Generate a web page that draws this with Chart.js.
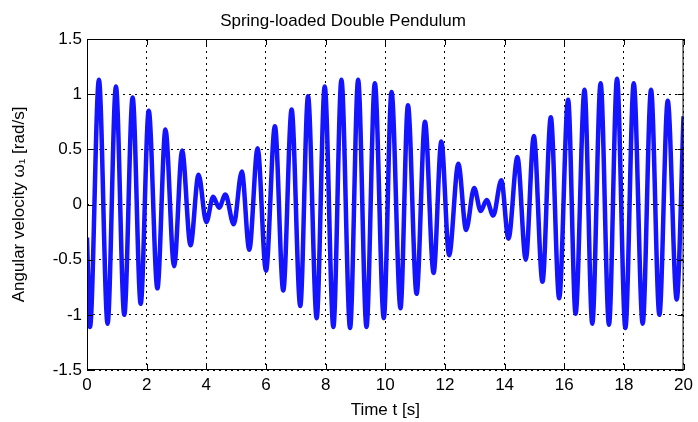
<!DOCTYPE html>
<html>
<head>
<meta charset="utf-8">
<title>Spring-loaded Double Pendulum</title>
<script src="https://cdn.jsdelivr.net/npm/chart.js@4/dist/chart.umd.min.js"></script>
<style>
  html,body{margin:0;padding:0;background:#fff;}
</style>
</head>
<body>
<canvas id="myChart" width="698" height="422"></canvas>
<script>
// turning points of the curve
// time [s]
const timeS=[0,0.10,0.40,0.69,0.97,1.25,1.53,1.80,2.07,2.36,2.63,2.92,3.19,3.47,3.74,4.00,
  4.23,4.43,4.64,4.92,5.19,5.44,5.72,6.00,6.30,6.58,6.86,7.15,7.41,7.70,7.97,8.26,8.53,8.82,
  9.09,9.37,9.65,9.95,10.21,10.51,10.76,11.05,11.33,11.62,11.88,12.14,12.45,12.71,12.98,13.20,
  13.40,13.62,13.89,14.13,14.43,14.71,14.98,15.27,15.55,15.83,16.13,16.38,16.68,16.94,17.22,
  17.50,17.77,18.05,18.33,18.63,18.91,19.19,19.47,19.77,20.00];
// angular velocity omega1 [rad/s]
const omega1=[-0.30,-1.11,1.13,-1.08,1.07,-1.00,0.97,-0.90,0.85,-0.76,0.68,-0.56,0.49,-0.37,0.27,-0.16,
  0.07,-0.03,0.09,-0.18,0.30,-0.41,0.51,-0.60,0.71,-0.78,0.86,-0.92,0.98,-1.03,1.07,-1.11,1.13,-1.12,
  1.13,-1.11,1.10,-1.03,1.02,-0.94,0.90,-0.81,0.75,-0.62,0.57,-0.46,0.37,-0.23,0.15,-0.06,
  0.04,-0.10,0.22,-0.31,0.43,-0.50,0.62,-0.70,0.79,-0.85,0.95,-0.99,1.04,-1.08,1.10,
  -1.09,1.14,-1.12,1.10,-1.08,1.04,-1.00,0.94,-0.86,0.80];

// axis ticks
const xTicks=[0,2,4,6,8,10,12,14,16,18,20];
const yTicks=[-1.5,-1,-0.5,0,0.5,1,1.5];

const points=timeS.map((t,i)=>({x:t,y:omega1[i]}));
const FONT='Arial, "Liberation Sans", sans-serif';

// white background + matlab style box with inward ticks
const boxPlugin={
  id:'box',
  beforeDraw(chart){
    const c=chart.ctx;
    c.save();
    c.fillStyle='#fff';
    c.fillRect(0,0,chart.width,chart.height);
    c.restore();
  },
  afterDraw(chart){
    const c=chart.ctx, a=chart.chartArea;
    const xs=chart.scales.x, ys=chart.scales.y;
    c.save();
    c.strokeStyle='#000';
    c.lineWidth=1;
    c.strokeRect(a.left+0.5,a.top+0.5,a.right-a.left-1,a.bottom-a.top-1);
    c.beginPath();
    xTicks.forEach(v=>{
      const px=Math.round(xs.getPixelForValue(v))+0.5;
      c.moveTo(px,a.bottom);c.lineTo(px,a.bottom-6);
      c.moveTo(px,a.top);c.lineTo(px,a.top+6);
    });
    yTicks.forEach(v=>{
      const py=Math.round(ys.getPixelForValue(v))+0.5;
      c.moveTo(a.left,py);c.lineTo(a.left+6,py);
      c.moveTo(a.right,py);c.lineTo(a.right-6,py);
    });
    c.stroke();
    c.restore();
  }
};

const ctx=document.getElementById('myChart').getContext('2d');
const chart=new Chart(ctx,{
  type:'line',
  data:{
    datasets:[{
      label:'omega1',
      data:points,
      borderColor:'rgb(20,20,255)',
      backgroundColor:'transparent',
      borderWidth:4.5,
      pointRadius:0,
      cubicInterpolationMode:'monotone',
      fill:false
    }]
  },
  options:{
    responsive:false,
    animation:false,
    layout:{padding:{left:0,right:12,top:0,bottom:0}},
    plugins:{
      legend:{display:false},
      tooltip:{enabled:false},
      title:{
        display:true,
        text:'Spring-loaded Double Pendulum',
        color:'#000',
        font:{family:FONT,size:17,weight:'normal'},
        padding:{top:11,bottom:7.6}
      }
    },
    scales:{
      x:{
        type:'linear',
        min:0,max:20,
        afterBuildTicks:s=>{s.ticks=xTicks.map(v=>({value:v}));},
        afterFit:s=>{s.height=52;},
        ticks:{color:'#000',font:{family:FONT,size:17},padding:5,maxRotation:0,callback:v=>String(v)},
        grid:{color:'#000',lineWidth:1,drawTicks:false},
        border:{display:false,dash:[2,4]},
        title:{display:true,text:'Time t [s]',color:'#000',font:{family:FONT,size:17},padding:1}
      },
      y:{
        type:'linear',
        min:-1.5,max:1.5,
        afterBuildTicks:s=>{s.ticks=yTicks.map(v=>({value:v}));},
        afterFit:s=>{s.width=87;},
        ticks:{color:'#000',font:{family:FONT,size:17},padding:5,callback:v=>String(v)},
        grid:{color:'#000',lineWidth:1,drawTicks:false},
        border:{display:false,dash:[2,4]},
        title:{display:true,text:'Angular velocity ω₁ [rad/s]',color:'#000',font:{family:FONT,size:17},padding:9}
      }
    }
  },
  plugins:[boxPlugin]
});
</script>
</body>
</html>
